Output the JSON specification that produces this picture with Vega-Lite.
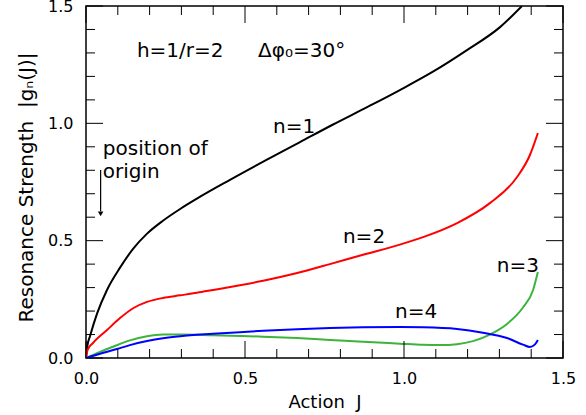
{
  "$schema": "https://vega.github.io/schema/vega-lite/v6.json",
  "width": 477,
  "height": 352,
  "autosize": "none",
  "padding": {"left": 86, "top": 6, "right": 23, "bottom": 57},
  "background": "white",
  "config": {
    "view": {"stroke": "black", "strokeWidth": 1.5},
    "font": "DejaVu Sans"
  },
  "datasets": {
    "curves": [
      {"J": 0, "g": 0, "n": "1"}, {"J": 0.004, "g": 0.05, "n": "1"}, {"J": 0.013, "g": 0.095, "n": "1"}, {"J": 0.035, "g": 0.19, "n": "1"}, {"J": 0.066, "g": 0.29, "n": "1"}, {"J": 0.107, "g": 0.385, "n": "1"}, {"J": 0.148, "g": 0.465, "n": "1"}, {"J": 0.192, "g": 0.53, "n": "1"}, {"J": 0.242, "g": 0.585, "n": "1"}, {"J": 0.296, "g": 0.635, "n": "1"}, {"J": 0.35, "g": 0.68, "n": "1"}, {"J": 0.45, "g": 0.757, "n": "1"}, {"J": 0.569, "g": 0.845, "n": "1"}, {"J": 0.673, "g": 0.92, "n": "1"}, {"J": 0.777, "g": 0.995, "n": "1"}, {"J": 0.884, "g": 1.069, "n": "1"}, {"J": 0.987, "g": 1.142, "n": "1"}, {"J": 1.091, "g": 1.22, "n": "1"}, {"J": 1.198, "g": 1.312, "n": "1"}, {"J": 1.302, "g": 1.41, "n": "1"}, {"J": 1.371, "g": 1.5, "n": "1"},
      {"J": 0, "g": 0, "n": "2"}, {"J": 0.005, "g": 0.035, "n": "2"}, {"J": 0.022, "g": 0.064, "n": "2"}, {"J": 0.066, "g": 0.119, "n": "2"}, {"J": 0.107, "g": 0.17, "n": "2"}, {"J": 0.148, "g": 0.212, "n": "2"}, {"J": 0.192, "g": 0.239, "n": "2"}, {"J": 0.242, "g": 0.256, "n": "2"}, {"J": 0.296, "g": 0.267, "n": "2"}, {"J": 0.349, "g": 0.278, "n": "2"}, {"J": 0.4, "g": 0.29, "n": "2"}, {"J": 0.484, "g": 0.31, "n": "2"}, {"J": 0.557, "g": 0.329, "n": "2"}, {"J": 0.664, "g": 0.362, "n": "2"}, {"J": 0.767, "g": 0.4, "n": "2"}, {"J": 0.871, "g": 0.44, "n": "2"}, {"J": 0.987, "g": 0.483, "n": "2"}, {"J": 1.06, "g": 0.515, "n": "2"}, {"J": 1.167, "g": 0.575, "n": "2"}, {"J": 1.27, "g": 0.66, "n": "2"}, {"J": 1.355, "g": 0.77, "n": "2"}, {"J": 1.396, "g": 0.865, "n": "2"}, {"J": 1.421, "g": 0.959, "n": "2"},
      {"J": 0, "g": 0, "n": "3"}, {"J": 0.044, "g": 0.026, "n": "3"}, {"J": 0.085, "g": 0.048, "n": "3"}, {"J": 0.138, "g": 0.075, "n": "3"}, {"J": 0.192, "g": 0.093, "n": "3"}, {"J": 0.242, "g": 0.1, "n": "3"}, {"J": 0.296, "g": 0.1, "n": "3"}, {"J": 0.399, "g": 0.097, "n": "3"}, {"J": 0.484, "g": 0.094, "n": "3"}, {"J": 0.557, "g": 0.091, "n": "3"}, {"J": 0.664, "g": 0.085, "n": "3"}, {"J": 0.767, "g": 0.077, "n": "3"}, {"J": 0.871, "g": 0.069, "n": "3"}, {"J": 0.987, "g": 0.061, "n": "3"}, {"J": 1.06, "g": 0.056, "n": "3"}, {"J": 1.113, "g": 0.055, "n": "3"}, {"J": 1.167, "g": 0.059, "n": "3"}, {"J": 1.217, "g": 0.072, "n": "3"}, {"J": 1.27, "g": 0.1, "n": "3"}, {"J": 1.324, "g": 0.145, "n": "3"}, {"J": 1.374, "g": 0.215, "n": "3"}, {"J": 1.406, "g": 0.29, "n": "3"}, {"J": 1.421, "g": 0.366, "n": "3"},
      {"J": 0, "g": 0, "n": "4"}, {"J": 0.044, "g": 0.018, "n": "4"}, {"J": 0.097, "g": 0.038, "n": "4"}, {"J": 0.138, "g": 0.055, "n": "4"}, {"J": 0.192, "g": 0.072, "n": "4"}, {"J": 0.242, "g": 0.084, "n": "4"}, {"J": 0.296, "g": 0.093, "n": "4"}, {"J": 0.399, "g": 0.103, "n": "4"}, {"J": 0.484, "g": 0.11, "n": "4"}, {"J": 0.557, "g": 0.116, "n": "4"}, {"J": 0.664, "g": 0.123, "n": "4"}, {"J": 0.767, "g": 0.128, "n": "4"}, {"J": 0.871, "g": 0.131, "n": "4"}, {"J": 0.987, "g": 0.132, "n": "4"}, {"J": 1.06, "g": 0.131, "n": "4"}, {"J": 1.167, "g": 0.124, "n": "4"}, {"J": 1.248, "g": 0.108, "n": "4"}, {"J": 1.324, "g": 0.085, "n": "4"}, {"J": 1.374, "g": 0.057, "n": "4"}, {"J": 1.396, "g": 0.047, "n": "4"}, {"J": 1.412, "g": 0.058, "n": "4"}, {"J": 1.421, "g": 0.077, "n": "4"}
    ],
    "labels": [
      {"x": 0.16, "y": 1.282, "text": "h=1/r=2"},
      {"x": 0.541, "y": 1.282, "text": "Δφ₀=30°"},
      {"x": 0.588, "y": 0.959, "text": "n=1"},
      {"x": 0.808, "y": 0.49, "text": "n=2"},
      {"x": 1.292, "y": 0.366, "text": "n=3"},
      {"x": 0.972, "y": 0.17, "text": "n=4"},
      {"x": 0.053, "y": 0.865, "text": "position of"},
      {"x": 0.053, "y": 0.767, "text": "origin"}
    ],
    "arrow": [{"x": 0.046, "y": 0.801, "y2": 0.625}],
    "arrowhead": [{"x": 0.046, "y": 0.614}],
    "majorTicks": [{"t": 0}, {"t": 0.5}, {"t": 1}, {"t": 1.5}],
    "minorTicks": [{"t": 0.1}, {"t": 0.2}, {"t": 0.3}, {"t": 0.4}, {"t": 0.6}, {"t": 0.7}, {"t": 0.8}, {"t": 0.9}, {"t": 1.1}, {"t": 1.2}, {"t": 1.3}, {"t": 1.4}]
  },
  "layer": [
    {
      "data": {"name": "curves"},
      "mark": {"type": "line", "strokeWidth": 2, "interpolate": "monotone", "clip": true},
      "encoding": {
        "x": {"field": "J", "type": "quantitative", "scale": {"domain": [0, 1.5], "nice": false, "zero": false},
          "axis": {"orient": "bottom", "values": [0, 0.5, 1, 1.5], "format": ".1f", "grid": false, "domain": false, "ticks": true, "tickSize": 0, "labelPadding": 12, "labelFontSize": 16, "labelColor": "black", "labelFlush": false, "labelOverlap": false,
            "title": "Action\u00a0 J", "titleColor": "black", "titleFontWeight": "normal", "titleFontSize": 18, "titleX": 238.5, "titleY": 49, "titleBaseline": "alphabetic", "titleAlign": "center", "titleAnchor": null}},
        "y": {"field": "g", "type": "quantitative", "scale": {"domain": [0, 1.5], "nice": false, "zero": false},
          "axis": {"orient": "left", "values": [0, 0.5, 1, 1.5], "format": ".1f", "grid": false, "domain": false, "ticks": true, "tickSize": 0, "labelPadding": 13, "labelFontSize": 16, "labelColor": "black", "labelBaseline": "middle", "labelFlush": false, "labelOverlap": false,
            "title": "Resonance Strength\u00a0 |gₙ(J)|", "titleColor": "black", "titleFontWeight": "normal", "titleFontSize": 20, "titleAngle": 270, "titleX": -54, "titleY": 181, "titleBaseline": "alphabetic", "titleAlign": "center", "titleAnchor": null}},
        "color": {"field": "n", "type": "nominal", "scale": {"domain": ["1", "2", "3", "4"], "range": ["#000000", "#ff0000", "#3cb43c", "#0000ff"]}, "legend": null}
      }
    },
    {
      "data": {"name": "labels"},
      "mark": {"type": "text", "align": "left", "baseline": "alphabetic", "fontSize": 20, "color": "black"},
      "encoding": {
        "x": {"field": "x", "type": "quantitative"},
        "y": {"field": "y", "type": "quantitative"},
        "text": {"field": "text", "type": "nominal"}
      }
    },
    {
      "data": {"name": "arrow"},
      "mark": {"type": "rule", "color": "black", "strokeWidth": 1.2},
      "encoding": {
        "x": {"field": "x", "type": "quantitative"},
        "y": {"field": "y", "type": "quantitative"},
        "y2": {"field": "y2"}
      }
    },
    {
      "data": {"name": "arrowhead"},
      "mark": {"type": "point", "shape": "triangle-down", "filled": true, "color": "black", "size": 30, "opacity": 1},
      "encoding": {
        "x": {"field": "x", "type": "quantitative"},
        "y": {"field": "y", "type": "quantitative"}
      }
    },
    {
      "data": {"name": "majorTicks"},
      "mark": {"type": "rule", "color": "black", "strokeWidth": 1},
      "encoding": {
        "x": {"field": "t", "type": "quantitative"},
        "y": {"datum": 0, "type": "quantitative"},
        "y2": {"datum": 0.0724}
      }
    },
    {
      "data": {"name": "minorTicks"},
      "mark": {"type": "rule", "color": "black", "strokeWidth": 1},
      "encoding": {
        "x": {"field": "t", "type": "quantitative"},
        "y": {"datum": 0, "type": "quantitative"},
        "y2": {"datum": 0.0384}
      }
    },
    {
      "data": {"name": "majorTicks"},
      "mark": {"type": "rule", "color": "black", "strokeWidth": 1},
      "encoding": {
        "x": {"field": "t", "type": "quantitative"},
        "y": {"datum": 1.5, "type": "quantitative"},
        "y2": {"datum": 1.4276}
      }
    },
    {
      "data": {"name": "minorTicks"},
      "mark": {"type": "rule", "color": "black", "strokeWidth": 1},
      "encoding": {
        "x": {"field": "t", "type": "quantitative"},
        "y": {"datum": 1.5, "type": "quantitative"},
        "y2": {"datum": 1.4616}
      }
    },
    {
      "data": {"name": "majorTicks"},
      "mark": {"type": "rule", "color": "black", "strokeWidth": 1},
      "encoding": {
        "y": {"field": "t", "type": "quantitative"},
        "x": {"datum": 0, "type": "quantitative"},
        "x2": {"datum": 0.0535}
      }
    },
    {
      "data": {"name": "minorTicks"},
      "mark": {"type": "rule", "color": "black", "strokeWidth": 1},
      "encoding": {
        "y": {"field": "t", "type": "quantitative"},
        "x": {"datum": 0, "type": "quantitative"},
        "x2": {"datum": 0.0283}
      }
    },
    {
      "data": {"name": "majorTicks"},
      "mark": {"type": "rule", "color": "black", "strokeWidth": 1},
      "encoding": {
        "y": {"field": "t", "type": "quantitative"},
        "x": {"datum": 1.5, "type": "quantitative"},
        "x2": {"datum": 1.4465}
      }
    },
    {
      "data": {"name": "minorTicks"},
      "mark": {"type": "rule", "color": "black", "strokeWidth": 1},
      "encoding": {
        "y": {"field": "t", "type": "quantitative"},
        "x": {"datum": 1.5, "type": "quantitative"},
        "x2": {"datum": 1.4717}
      }
    }
  ]
}
